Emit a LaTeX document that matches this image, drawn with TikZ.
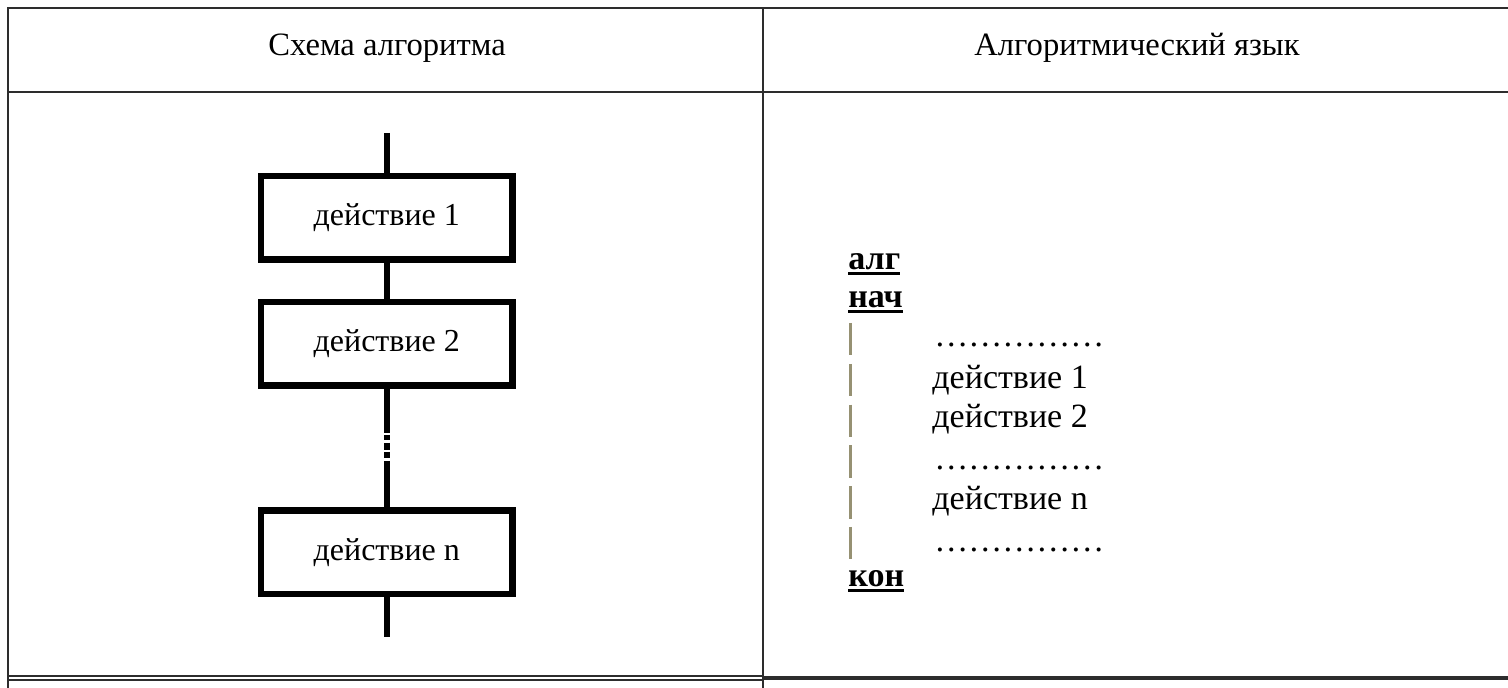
\documentclass[tikz,border=0pt]{standalone}
\usepackage{fontspec}
\setmainfont{Liberation Serif}
\usetikzlibrary{shapes.geometric, arrows}

\definecolor{barcol}{RGB}{150,145,115}
\definecolor{linecol}{RGB}{45,45,45}

\tikzstyle{action} = [rectangle, minimum width=125.75pt, minimum height=41.75pt, text centered, draw=black, line width=3.25pt, font=\fontsize{16}{19}\selectfont]
\tikzstyle{stem} = [line width=3.25pt]
\tikzstyle{tableline} = [draw=linecol, line width=1pt]
\tikzstyle{head} = [anchor=base, font=\fontsize{16.3}{19}\selectfont]
\tikzstyle{code} = [anchor=base west, inner sep=0pt, font=\fontsize{17}{20}\selectfont]
\tikzstyle{bar} = [draw=barcol, line width=1.5pt, dash pattern=on 16.25pt off 4.15pt]

\newsavebox{\kwdbox}
\newcommand{\kwd}[1]{\sbox{\kwdbox}{\bfseries #1}\rlap{\rule[-2.3pt]{\wd\kwdbox}{1.5pt}}\usebox{\kwdbox}}

\begin{document}
\begin{tikzpicture}[x=0.5pt, y=-0.5pt, node distance=63pt]

\useasboundingbox (0,0) rectangle (1508,688);

\draw [tableline] (8,688) -- (8,8) -- (1508,8);
\draw [tableline] (8,92) -- (1508,92);
\draw [tableline] (763,8) -- (763,688);
\draw [tableline] (8,676) -- (763,676);
\draw [tableline] (8,679.5) -- (763,679.5);
\draw [tableline, line width=2pt] (763,678) -- (1508,678);

\node (headscheme) [head] at (387,56) {Схема алгоритма};
\node (headlang) [head] at (1137,56) {Алгоритмический язык};

\coordinate (top) at (386.75,133);
\node (act1) [action] at (386.75,217.75) {действие 1};
\node (act2) [action, below of=act1] {действие 2};
\node (actn) [action, below of=act2, node distance=104.25pt] {действие n};
\coordinate (bot) at (386.75,637);

\draw [stem] (top) -- (act1);
\draw [stem] (act1) -- (act2);
\draw [stem, dash pattern=on 22.1pt off 1pt on 2.5pt off 1.5pt on 3.5pt off 1pt on 3pt off 1.5pt on 30pt] (act2) -- (actn);
\draw [stem] (actn) -- (bot);

\node (alg) [code] at (848,270) {\kwd{алг}};
\node (nach) [code] at (848,308) {\kwd{нач}};
\node (dots1) [code] at (934,347) {\dots\dots\dots\dots\dots};
\node (do1) [code] at (932,389) {действие 1};
\node (do2) [code] at (932,428) {действие 2};
\node (dots2) [code] at (934,470) {\dots\dots\dots\dots\dots};
\node (don) [code] at (932,510) {действие n};
\node (dots3) [code] at (934,552) {\dots\dots\dots\dots\dots};
\node (kon) [code] at (848,587) {\kwd{кон}};

\coordinate (bartop) at (850.5,323);
\coordinate (barbot) at (850.5,560);
\draw [bar] (bartop) -- (barbot);

\end{tikzpicture}
\end{document}
